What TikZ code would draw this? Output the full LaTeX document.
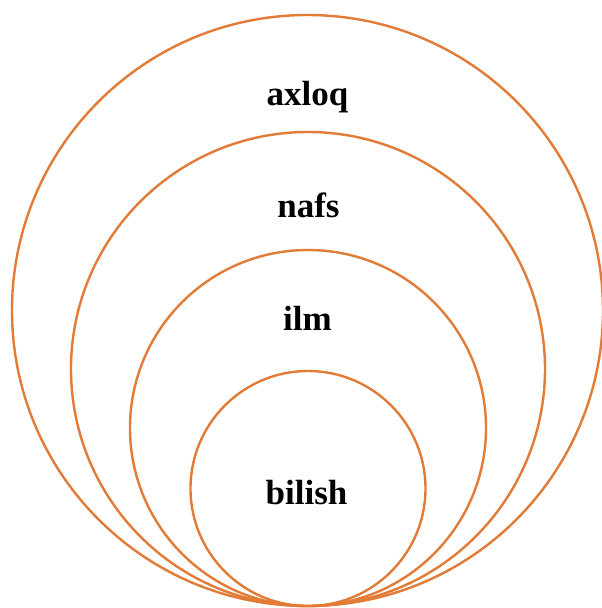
\documentclass[tikz,border=0pt]{standalone}
\usepackage{fontspec}
\setmainfont{Liberation Serif}
\usepackage{xcolor}
\definecolor{ringorange}{RGB}{226,123,53}

\begin{document}
\begin{tikzpicture}[x=1pt,y=1pt]
\tikzstyle{every node}+=[inner sep=0pt]
\tikzset{
  ring/.style={draw=ringorange,line width=2.4pt},
  word/.style={anchor=base,font=\fontsize{35}{42}\selectfont\bfseries}
}
\useasboundingbox (0,0) rectangle (602,-608);
\draw [ring] (307.5,-310.5) circle (295.5);
\draw [ring] (308,-369) circle (237);
\draw [ring] (308,-428) circle (178);
\draw [ring] (308,-488.5) circle (117.5);
\node [word] (axloq) at (307.5,-105) {axloq};
\node [word] (nafs) at (308.5,-217) {nafs};
\node [word] (ilm) at (307.5,-330) {ilm};
\node [word] (bilish) at (306.5,-504) {bilish};
\end{tikzpicture}
\end{document}
